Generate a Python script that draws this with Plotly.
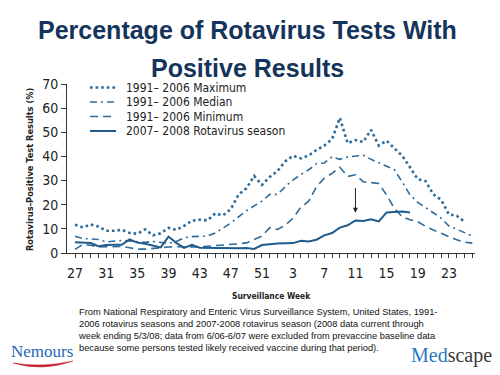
import plotly.graph_objects as go

# Surveillance weeks (July 2007 week 27 -> June 2008 week 26)
weeks = list(range(27, 53)) + list(range(1, 27))
tick_labels = [str(w) if i % 4 == 0 else "" for i, w in enumerate(weeks)]

max_vals = [11.7, 10.6, 11.8, 11.0, 9.2, 9.2, 9.6, 8.3, 8.0, 9.8, 7.3, 8.2, 10.4, 9.6, 11.2,
            13.4, 13.8, 13.5, 16.4, 15.6, 18.2, 24.2, 26.8, 31.9, 28.2, 31.5, 34.0, 38.0, 40.3,
            39.2, 40.4, 42.7, 44.5, 47.2, 56.0, 45.5, 46.8, 46.0, 51.0, 44.5, 46.5, 43.3, 40.3,
            35.5, 30.6, 29.8, 24.3, 22.0, 16.0, 15.4, 13.0]
median_vals = [6.9, 6.0, 5.8, 5.6, 4.6, 5.0, 5.2, 5.0, 4.8, 4.4, 4.8, 4.3, 4.0, 4.8, 6.3,
               6.8, 6.9, 7.0, 8.3, 10.5, 12.4, 15.0, 17.5, 19.5, 21.5, 24.3, 24.3, 27.5, 30.3,
               32.5, 34.5, 37.0, 37.3, 39.9, 38.8, 39.8, 40.3, 40.5, 38.8, 37.4, 35.8, 34.5, 29.5,
               24.1, 21.0, 18.8, 16.5, 14.5, 11.2, 9.8, 8.3, 7.1]
min_vals = [1.5, 3.5, 3.2, 2.5, 2.6, 2.8, 2.7, 2.2, 1.6, 1.6, 2.0, 2.3, 2.5, 2.6, 2.5,
            2.3, 2.5, 2.8, 3.0, 3.2, 3.5, 3.8, 4.2, 5.5, 7.0, 10.5, 9.8, 11.5, 14.5,
            19.0, 21.5, 27.5, 31.0, 33.0, 35.5, 31.7, 32.4, 29.5, 29.0, 28.8, 24.0, 18.5, 15.0,
            13.8, 13.0, 11.0, 9.5, 8.0, 6.8, 5.5, 4.5, 4.1]
season_vals = [4.5, 4.4, 4.1, 2.8, 3.3, 3.4, 3.4, 5.6, 4.3, 3.8, 3.2, 2.3, 6.8, 4.2, 2.1,
               3.4, 2.2, 2.1, 2.1, 2.0, 1.8, 2.0, 2.1, 1.7, 3.3, 3.7, 3.9, 4.0, 4.1,
               5.1, 4.8, 5.5, 7.3, 8.3, 10.5, 11.5, 13.5, 13.3, 14.0, 13.1, 16.8, 17.0, 17.2, 16.8]
y_ticks = [0, 10, 20, 30, 40, 50, 60, 70]

series_names = ["1991\u2013 2006 Maximum", "1991\u2013 2006 Median",
                "1991\u2013 2006 Minimum", "2007\u2013 2008 Rotavirus season"]

NARROW = "Liberation Sans Narrow, Arial Narrow, DejaVu Sans Condensed, sans-serif"
LINE = "#2d6b9b"
styles = [
    dict(color=LINE, width=2.6, dash="2.6px,3px"),
    dict(color=LINE, width=1.6, dash="7px,4px,2px,4px"),
    dict(color=LINE, width=1.6, dash="8px,5px"),
    dict(color="#1f5c8d", width=2, dash="solid"),
]
all_vals = [max_vals, median_vals, min_vals, season_vals]

fig = go.Figure()
for name, vals, st in zip(series_names, all_vals, styles):
    fig.add_trace(go.Scatter(x=list(range(len(vals))), y=vals, mode="lines",
                             name=name, line=st, showlegend=False))

# page body keeps its default 8px margin, so the figure is 8px smaller
OFF = 8
W, H = 500 - OFF, 375 - OFF
X0, X1, Y0, Y1 = 67, 475, 84, 253          # plot area in page pixels
L, T = X0 - OFF, Y0 - OFF
R, B = W - (X1 - OFF), H - (Y1 - OFF)
PW, PH = X1 - X0, Y1 - Y0


def px(xp):
    return (xp - X0) / PW


def py(yp):
    return (Y1 - yp) / PH


fig.update_layout(
    width=W, height=H,
    margin=dict(l=L, r=R, t=T, b=B, autoexpand=False),
    paper_bgcolor="white", plot_bgcolor="white",
    showlegend=False,
    xaxis=dict(range=[-1.03, 51.35], tickvals=list(range(len(weeks))), ticktext=tick_labels,
               ticks="outside", ticklen=4, tickwidth=1, tickcolor="#333",
               showline=True, linecolor="#333", linewidth=1, showgrid=False, zeroline=False,
               tickfont=dict(family=NARROW, size=14, color="#222"),
               ticklabelstandoff=3, ticklabeloverflow="allow", fixedrange=True),
    yaxis=dict(range=[0, 70.02], tickmode="array", tickvals=y_ticks,
               ticks="outside", ticklen=5, tickwidth=1, tickcolor="#333",
               showticklabels=True, ticklabeloverflow="allow",
               showline=True, linecolor="#333", linewidth=1, showgrid=False, zeroline=False,
               tickfont=dict(family=NARROW, size=14, color="#222"), fixedrange=True),
)

TITLE_FONT = dict(family="Liberation Sans, Arial, sans-serif", size=25, color="#15345b")
ann = [
    dict(text="<b>Percentage of Rotavirus Tests With</b>", x=px(247.5), y=py(30),
         xref="paper", yref="paper", showarrow=False, font=TITLE_FONT,
         xanchor="center", yanchor="middle"),
    dict(text="<b>Positive Results</b>", x=px(247.5), y=py(68),
         xref="paper", yref="paper", showarrow=False, font=TITLE_FONT,
         xanchor="center", yanchor="middle"),
    dict(text="<b>Rotavirus-Positive Test Results (%)</b>", x=px(29), y=py(170),
         xref="paper", yref="paper", showarrow=False, textangle=-90,
         font=dict(family=NARROW, size=9.2, color="#222"),
         xanchor="center", yanchor="middle"),
    dict(text="<b>Surveillance Week</b>", x=px(271.5), y=py(296),
         xref="paper", yref="paper", showarrow=False,
         font=dict(family=NARROW, size=8.4, color="#222"),
         xanchor="center", yanchor="middle"),
    dict(text=("From National Respiratory and Enteric Virus Surveillance System, United States, 1991-<br>"
               "2006 rotavirus seasons and 2007-2008 rotavirus season (2008 data current through<br>"
               "week ending 5/3/08; data from 6/06-6/07 were excluded from prevaccine baseline data<br>"
               "because some persons tested likely received vaccine during that period)."),
         x=px(76), y=py(305), xref="paper", yref="paper", showarrow=False, align="left",
         font=dict(family="Liberation Sans, Arial, sans-serif", size=9.3, color="#111"),
         xanchor="left", yanchor="top"),
    dict(text="Nemours", x=px(42), y=py(351), xref="paper", yref="paper", showarrow=False,
         font=dict(family="Liberation Serif, Times New Roman, serif", size=17, color="#2468b2"),
         xanchor="center", yanchor="middle"),
    dict(text="<span style='color:#2b78c2'>Med</span><span style='color:#3a3a3a'>scape</span>",
         x=px(451), y=py(355), xref="paper", yref="paper", showarrow=False,
         font=dict(family="Liberation Serif, Times New Roman, serif", size=20),
         xanchor="center", yanchor="middle"),
    dict(text="", x=36, y=16.7, ax=36, ay=27.5, xref="x", yref="y", axref="x", ayref="y",
         showarrow=True, arrowhead=2, arrowsize=1, arrowwidth=1, arrowcolor="#222"),
]

# hand-drawn legend (symbol + label), like the original slide
legend_rows = [87.5, 102, 116.5, 131]
for name, st, yr in zip(series_names, styles, legend_rows):
    fig.add_shape(type="line", xref="paper", yref="paper",
                  x0=px(90), x1=px(116), y0=py(yr), y1=py(yr),
                  line=dict(color=st["color"], width=st["width"], dash=st["dash"]))
    ann.append(dict(text=name, x=px(124), y=py(yr), xref="paper", yref="paper",
                    showarrow=False, xanchor="left", yanchor="middle",
                    font=dict(family=NARROW, size=12, color="#222")))

fig.update_layout(annotations=ann)

# red swoosh under the Nemours logo
fig.add_shape(type="path", xref="paper", yref="paper",
              path=(f"M {px(13)},{py(363)} Q {px(42)},{py(372)} {px(73)},{py(361)} "
                    f"Q {px(42)},{py(368)} {px(13)},{py(363)} Z"),
              fillcolor="#c8202f", line=dict(color="#c8202f", width=0.5))

fig.write_html("out.html", config={"displayModeBar": False})
